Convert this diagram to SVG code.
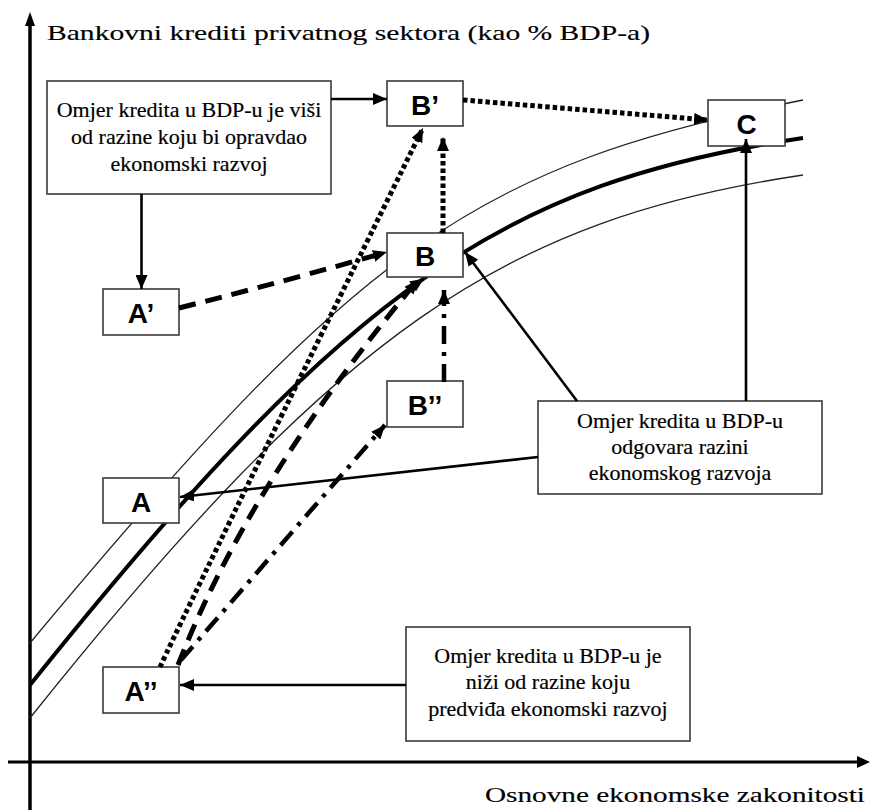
<svg xmlns="http://www.w3.org/2000/svg" width="870" height="810" viewBox="0 0 870 810">
<style>
.bg{fill:#fff}
.box{fill:#fff;stroke:#3a3a3a;stroke-width:1.6}
.lbl{font-family:"Liberation Sans",Arial,sans-serif;font-weight:bold;font-size:28px;fill:#000;text-anchor:middle}
.txt{font-family:"Liberation Serif","DejaVu Serif",serif;font-size:22px;fill:#000;stroke:#000;stroke-width:0.2;text-anchor:middle}
.ax{font-family:"Liberation Serif","DejaVu Serif",serif;font-size:22px;fill:#000;stroke:#000;stroke-width:0.15}
.axis{stroke:#000;stroke-width:3.5;fill:none}
.thin{stroke:#222;stroke-width:1.3;fill:none}
.thick{stroke:#000;stroke-width:4;fill:none}
.solid{stroke:#000;stroke-width:2.6;fill:none}
.dot{stroke:#000;stroke-width:5;fill:none;stroke-dasharray:4.5 3}
.dash{stroke:#000;stroke-width:5;fill:none;stroke-dasharray:17 10}
.dashdot{stroke:#000;stroke-width:4.5;fill:none;stroke-dasharray:18 8 4 8}
</style>
<defs>
<marker id="arr" markerUnits="userSpaceOnUse" markerWidth="15" markerHeight="12" refX="14" refY="6" orient="auto">
<path d="M0,0 L14,6 L0,12 z" fill="#000"/>
</marker>
</defs>
<rect class="bg" x="0" y="0" width="870" height="810"/>
<g id="axes">
<line class="axis" x1="30" y1="810" x2="30" y2="25"/>
<polygon points="25,26 35,26 30,12" fill="#000"/>
<line class="axis" x1="8" y1="762" x2="858" y2="762" style="stroke-width:3"/>
<polygon points="857,756 857,768 870,762" fill="#000"/>
<text class="ax" x="47" y="40" textLength="603" lengthAdjust="spacingAndGlyphs">Bankovni krediti privatnog sektora (kao % BDP-a)</text>
<text class="ax" x="485" y="802" textLength="380" lengthAdjust="spacingAndGlyphs">Osnovne ekonomske zakonitosti</text>
</g>
<g id="curves">
<path class="thin" d="M30,643 C360,247 473,166 803,100"/>
<path class="thin" d="M30,718 C340,330 503,220 803,175"/>
<path class="thick" d="M30,685 C190,485 308.25,359.5 424,278.4" marker-end="url(#arr)"/>
<path class="thick" d="M424,278.4 C539.75,197.25 653,160.5 803,138"/>
</g>
<g id="node-note-high">
<rect class="box" x="47" y="81" width="284" height="113"/>
<text class="txt" x="189" y="117">Omjer kredita u BDP-u je viši</text>
<text class="txt" x="189" y="144">od razine koju bi opravdao</text>
<text class="txt" x="189" y="171">ekonomski razvoj</text>
</g>
<g id="node-note-match">
<rect class="box" x="538" y="401" width="284" height="93"/>
<text class="txt" x="680" y="428">Omjer kredita u BDP-u</text>
<text class="txt" x="680" y="454">odgovara razini</text>
<text class="txt" x="680" y="480">ekonomskog razvoja</text>
</g>
<g id="node-note-low">
<rect class="box" x="406" y="627" width="284" height="114"/>
<text class="txt" x="548" y="663">Omjer kredita u BDP-u je</text>
<text class="txt" x="548" y="689">niži od razine koju</text>
<text class="txt" x="548" y="716">predviđa ekonomski razvoj</text>
</g>
<g id="node-Bp">
<rect class="box" x="387" y="81" width="76" height="45"/>
<text class="lbl" x="425" y="114.5">B’</text>
</g>
<g id="node-C">
<rect class="box" x="708" y="100" width="77" height="46"/>
<text class="lbl" x="746.5" y="134">C</text>
</g>
<g id="node-B">
<rect class="box" x="387" y="233" width="76" height="44"/>
<text class="lbl" x="425" y="266">B</text>
</g>
<g id="node-Ap">
<rect class="box" x="103" y="289" width="76" height="46"/>
<text class="lbl" x="141" y="323">A’</text>
</g>
<g id="node-Bpp">
<rect class="box" x="387" y="381" width="76" height="46"/>
<text class="lbl" x="425" y="415">B’’</text>
</g>
<g id="node-A">
<rect class="box" x="103" y="478" width="76" height="45"/>
<text class="lbl" x="141" y="512">A</text>
</g>
<g id="node-App">
<rect class="box" x="103" y="667" width="76" height="46"/>
<text class="lbl" x="141" y="701">A’’</text>
</g>
<g id="connectors">
<path class="solid" d="M331,99 L387,99" marker-end="url(#arr)"/>
<path class="solid" d="M141.5,194 L141.5,289" marker-end="url(#arr)"/>
<path class="dot" d="M463,100 L708,120" marker-end="url(#arr)"/>
<path class="dot" d="M443,233 L443,137" marker-end="url(#arr)"/>
<path class="dot" d="M160,667 Q205,570 423,128" marker-end="url(#arr)"/>
<path class="dash" d="M178,665 Q250,480 418,280" marker-end="url(#arr)"/>
<path class="dash" d="M179,308 Q290,280 387,252" marker-end="url(#arr)"/>
<path class="dashdot" d="M181,660 L385,425" marker-end="url(#arr)"/>
<path class="dashdot" d="M444,382 L444,290" marker-end="url(#arr)"/>
<path class="solid" d="M577,401 L465,252" marker-end="url(#arr)"/>
<path class="solid" d="M746,401 L746,139" marker-end="url(#arr)"/>
<path class="solid" d="M538,457 L180,497" marker-end="url(#arr)"/>
<path class="solid" d="M406,685 L180,685" marker-end="url(#arr)"/>
</g>
</svg>
